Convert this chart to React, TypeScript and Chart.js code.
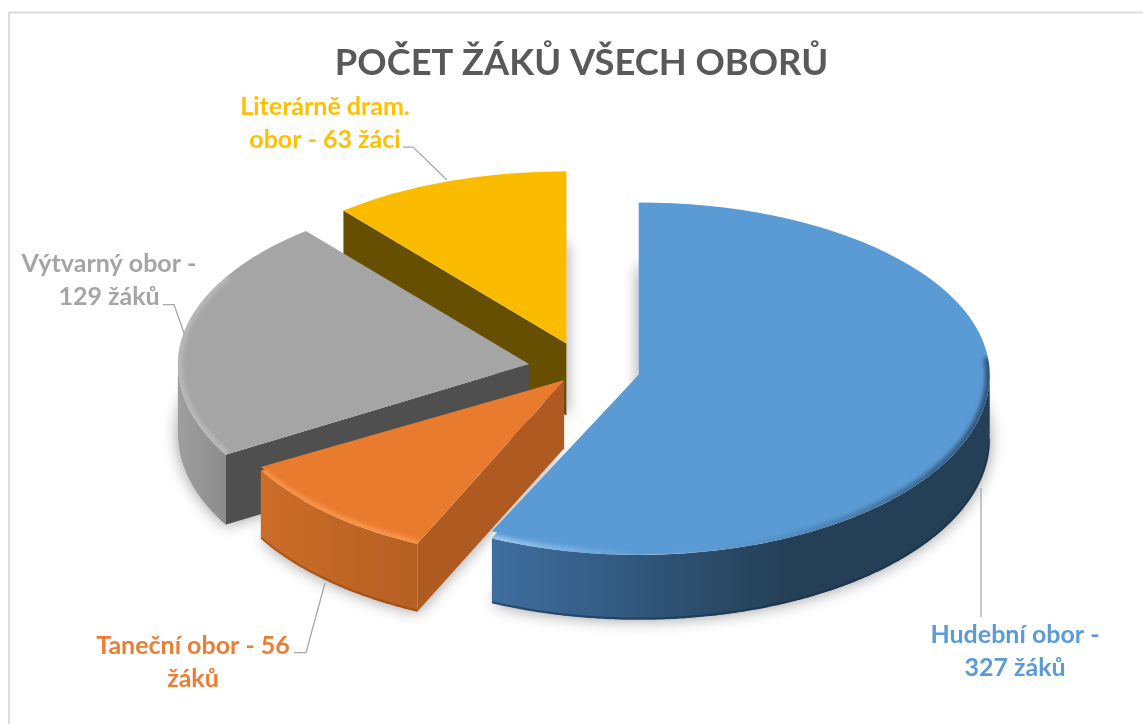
import React, { useEffect, useRef } from "react";
import { Chart, registerables } from "chart.js";

Chart.register(...registerables);

const TITLE = "POČET ŽÁKŮ VŠECH OBORŮ";
const categories = ["Hudební obor", "Taneční obor", "Výtvarný obor", "Literárně dram. obor"];
const students = [327, 56, 129, 63];
const labelLines = [
  ["Hudební obor -", "327 žáků"],
  ["Taneční obor - 56", "žáků"],
  ["Výtvarný obor -", "129 žáků"],
  ["Literárně dram.", "obor - 63 žáci"],
];
const topColors = ["#5b9bd5", "#e97b2f", "#a5a5a5", "#fbbc00"];
const textColors = ["#5b9bd5", "#ed7d31", "#a5a5a5", "#ffc000"];
const cutColors = ["#2c5273", "#ae5a21", "#4f4f4f", "#664f00"];
const explode = [55, 31, 57, 55];
const depths = [65, 68, 70, 72];

const labelPlacement = [
  { x: 1015, y: 643, line: [[981, 488], [981, 617]] },
  { x: 193, y: 654, line: [[294, 652.5], [306, 652.5], [325, 583]] },
  { x: 109, y: 272, line: [[163, 304.5], [174, 304.5], [184, 333]] },
  { x: 325, y: 115, line: [[403, 147], [413, 147], [447, 180]] },
];

const SQUASH_BACK = 0.491;
const SQUASH_FRONT = 0.513;
const RADIUS = 351;

function centerY(chart: any) {
  return (chart.chartArea.top + chart.chartArea.bottom) / 2;
}

function geom(el: any, cy: number) {
  return {
    ax: el.x,
    ay: cy + (el.y - cy) * SQUASH_BACK,
    start: el.startAngle,
    end: el.endAngle,
    r: el.outerRadius,
  };
}

function rimPoint(g: any, a: number, r: number, dy: number) {
  const s = Math.sin(a);
  return [g.ax + r * Math.cos(a), g.ay + dy + r * s * (s > 0 ? SQUASH_FRONT : SQUASH_BACK)];
}

// traces the rim; the front half of the disc is a little deeper than the back half
function traceRim(ctx: CanvasRenderingContext2D, g: any, a0: number, a1: number, r: number, dy: number, move: boolean) {
  const steps = Math.max(2, Math.ceil(Math.abs(a1 - a0) / 0.008));
  for (let n = 0; n <= steps; n++) {
    const [x, y] = rimPoint(g, a0 + ((a1 - a0) * n) / steps, r, dy);
    if (n === 0 && move) ctx.moveTo(x, y);
    else ctx.lineTo(x, y);
  }
}

function facePath(ctx: CanvasRenderingContext2D, g: any, dy: number) {
  ctx.beginPath();
  ctx.moveTo(g.ax, g.ay + dy);
  traceRim(ctx, g, g.start, g.end, g.r, dy, false);
  ctx.closePath();
}

function wallGradient(ctx: CanvasRenderingContext2D, i: number) {
  if (i === 0) {
    const w = ctx.createLinearGradient(488, 0, 990, 0);
    w.addColorStop(0, "#3f6f9f");
    w.addColorStop(0.2, "#365f88");
    w.addColorStop(0.42, "#2c4d6c");
    w.addColorStop(0.6, "#253f56");
    w.addColorStop(1, "#253f56");
    return w;
  }
  if (i === 1) {
    const w = ctx.createLinearGradient(258, 0, 416, 0);
    w.addColorStop(0, "#cc6e28");
    w.addColorStop(1, "#b55f22");
    return w;
  }
  const w = ctx.createLinearGradient(178, 0, 230, 0);
  w.addColorStop(0, "#9f9f9f");
  w.addColorStop(1, "#8a8a8a");
  return w;
}

const pie3d = {
  id: "pie3d",
  afterDatasetsUpdate(chart: any) {
    // explode the slices along their mid angle
    chart.getDatasetMeta(0).data.forEach((el: any, i: number) => {
      const mid = (el.startAngle + el.endAngle) / 2;
      el.x += Math.cos(mid) * explode[i];
      el.y += Math.sin(mid) * explode[i];
    });
  },
  beforeDraw(chart: any) {
    const ctx: CanvasRenderingContext2D = chart.ctx;
    ctx.save();
    ctx.fillStyle = "#ffffff";
    ctx.fillRect(0, 0, chart.width, chart.height);
    ctx.strokeStyle = "#dcdcdc";
    ctx.lineWidth = 2;
    ctx.strokeRect(9, 12.5, chart.width + 40, chart.height + 40);
    ctx.restore();
  },
  beforeDatasetsDraw(chart: any) {
    const ctx: CanvasRenderingContext2D = chart.ctx;
    const arcs = chart.getDatasetMeta(0).data;
    const cy = centerY(chart);
    const geoms = arcs.map((el: any) => geom(el, cy));
    ctx.save();
    // soft shadow below every slice
    geoms.forEach((g: any, i: number) => {
      ctx.save();
      ctx.shadowColor = "rgba(0,0,0,0.4)";
      ctx.shadowBlur = 16;
      ctx.fillStyle = "#ffffff";
      facePath(ctx, g, depths[i]);
      ctx.fill();
      ctx.restore();
    });
    // walls, back to front
    [3, 2, 1, 0].forEach((i) => {
      const g = geoms[i];
      const dy = depths[i];
      const a0 = Math.max(g.start, 0);
      const a1 = Math.min(g.end, Math.PI);
      if (a1 > a0) {
        ctx.beginPath();
        traceRim(ctx, g, a0, a1, g.r, 0, true);
        traceRim(ctx, g, a1, a0, g.r, dy, false);
        ctx.closePath();
        ctx.fillStyle = wallGradient(ctx, i);
        ctx.fill();
      }
      const cuts: number[] = [];
      if (Math.cos(g.start) < -1e-6) cuts.push(g.start);
      if (Math.cos(g.end) > 1e-6) cuts.push(g.end);
      cuts.forEach((a) => {
        const [ex, ey] = rimPoint(g, a, g.r, 0);
        ctx.beginPath();
        ctx.moveTo(g.ax, g.ay);
        ctx.lineTo(ex, ey);
        ctx.lineTo(ex, ey + dy);
        ctx.lineTo(g.ax, g.ay + dy);
        ctx.closePath();
        ctx.fillStyle = cutColors[i];
        ctx.fill();
      });
      // dark lower edge of the wall
      if (a1 > a0 && i < 2) {
        ctx.save();
        ctx.filter = "blur(0.6px)";
        ctx.beginPath();
        traceRim(ctx, g, a0, a1, g.r - 0.5, dy - 1, true);
        ctx.strokeStyle = i === 0 ? "rgba(22,48,72,0.55)" : "rgba(125,62,20,0.45)";
        ctx.lineWidth = 2;
        ctx.stroke();
        ctx.restore();
      }
    });
    ctx.restore();
    // the library draws the tops in a squashed space
    ctx.save();
    ctx.translate(0, cy);
    ctx.scale(1, SQUASH_BACK);
    ctx.translate(0, -cy);
  },
  afterDatasetsDraw(chart: any) {
    const ctx: CanvasRenderingContext2D = chart.ctx;
    ctx.restore();
    const arcs = chart.getDatasetMeta(0).data;
    const cy = centerY(chart);
    const geoms = arcs.map((el: any) => geom(el, cy));
    // the library redraws the front half of every top a little deeper
    arcs.forEach((el: any, i: number) => {
      const g = geoms[i];
      ctx.save();
      ctx.beginPath();
      ctx.rect(0, g.ay, chart.width, chart.height);
      ctx.clip();
      ctx.translate(0, g.ay);
      ctx.scale(1, SQUASH_FRONT);
      ctx.translate(0, -el.y);
      el.draw(ctx);
      ctx.restore();
    });
    // bevel along the rim of the tops
    geoms.forEach((g: any, i: number) => {
      const a0 = Math.max(g.start, i === 2 ? 0 : -0.1);
      const a1 = Math.min(g.end, i === 2 ? Math.PI * 1.17 : Math.PI);
      if (a1 <= a0 || i === 3) return;
      ctx.save();
      facePath(ctx, g, 0);
      ctx.clip();
      ctx.filter = "blur(2px)";
      ctx.lineWidth = 7;
      if (i === 0) {
        const s = ctx.createLinearGradient(488, 0, 990, 0);
        s.addColorStop(0, "rgba(190,225,255,0.7)");
        s.addColorStop(0.3, "rgba(190,225,255,0.0)");
        s.addColorStop(0.6, "rgba(25,50,75,0.15)");
        s.addColorStop(1, "rgba(25,50,75,0.7)");
        ctx.strokeStyle = s;
      } else if (i === 1) {
        ctx.strokeStyle = "rgba(255,160,85,0.7)";
      } else {
        ctx.strokeStyle = "rgba(205,205,205,0.5)";
      }
      ctx.beginPath();
      traceRim(ctx, g, a0, a1, g.r - 1, 0, true);
      ctx.stroke();
      ctx.restore();
    });
  },
  afterDraw(chart: any) {
    const ctx: CanvasRenderingContext2D = chart.ctx;
    ctx.save();
    ctx.textAlign = "center";
    ctx.textBaseline = "alphabetic";
    ctx.fillStyle = "#595959";
    ctx.font = "bold 36.3px Lato";
    ctx.fillText(TITLE, 581.5, 75);
    ctx.font = "bold 25px Lato";
    labelLines.forEach((lines, i) => {
      const pl = labelPlacement[i];
      ctx.fillStyle = textColors[i];
      lines.forEach((t, n) => ctx.fillText(t, pl.x, pl.y + n * 32.5));
      ctx.beginPath();
      pl.line.forEach(([x, y], n) => (n ? ctx.lineTo(x, y) : ctx.moveTo(x, y)));
      ctx.strokeStyle = "#a6a6a6";
      ctx.lineWidth = 1.25;
      ctx.stroke();
    });
    ctx.restore();
  },
};

export default function App() {
  const ref = useRef<HTMLCanvasElement>(null);
  useEffect(() => {
    const chart = new Chart(ref.current as HTMLCanvasElement, {
      type: "pie",
      data: {
        labels: categories,
        datasets: [
          {
            data: students,
            backgroundColor: topColors,
            borderWidth: 0,
            clip: false,
          } as any,
        ],
      },
      options: {
        responsive: false,
        animation: false,
        radius: RADIUS,
        layout: { padding: { left: 27, top: 14, right: 0, bottom: 0 } },
        plugins: { legend: { display: false }, tooltip: { enabled: false } },
      } as any,
      plugins: [pie3d],
    });
    return () => chart.destroy();
  }, []);
  return (
    <canvas
      ref={ref}
      width={1143}
      height={724}
      style={{ position: "absolute", left: 0, top: 0, width: 1143, height: 724 }}
    />
  );
}
